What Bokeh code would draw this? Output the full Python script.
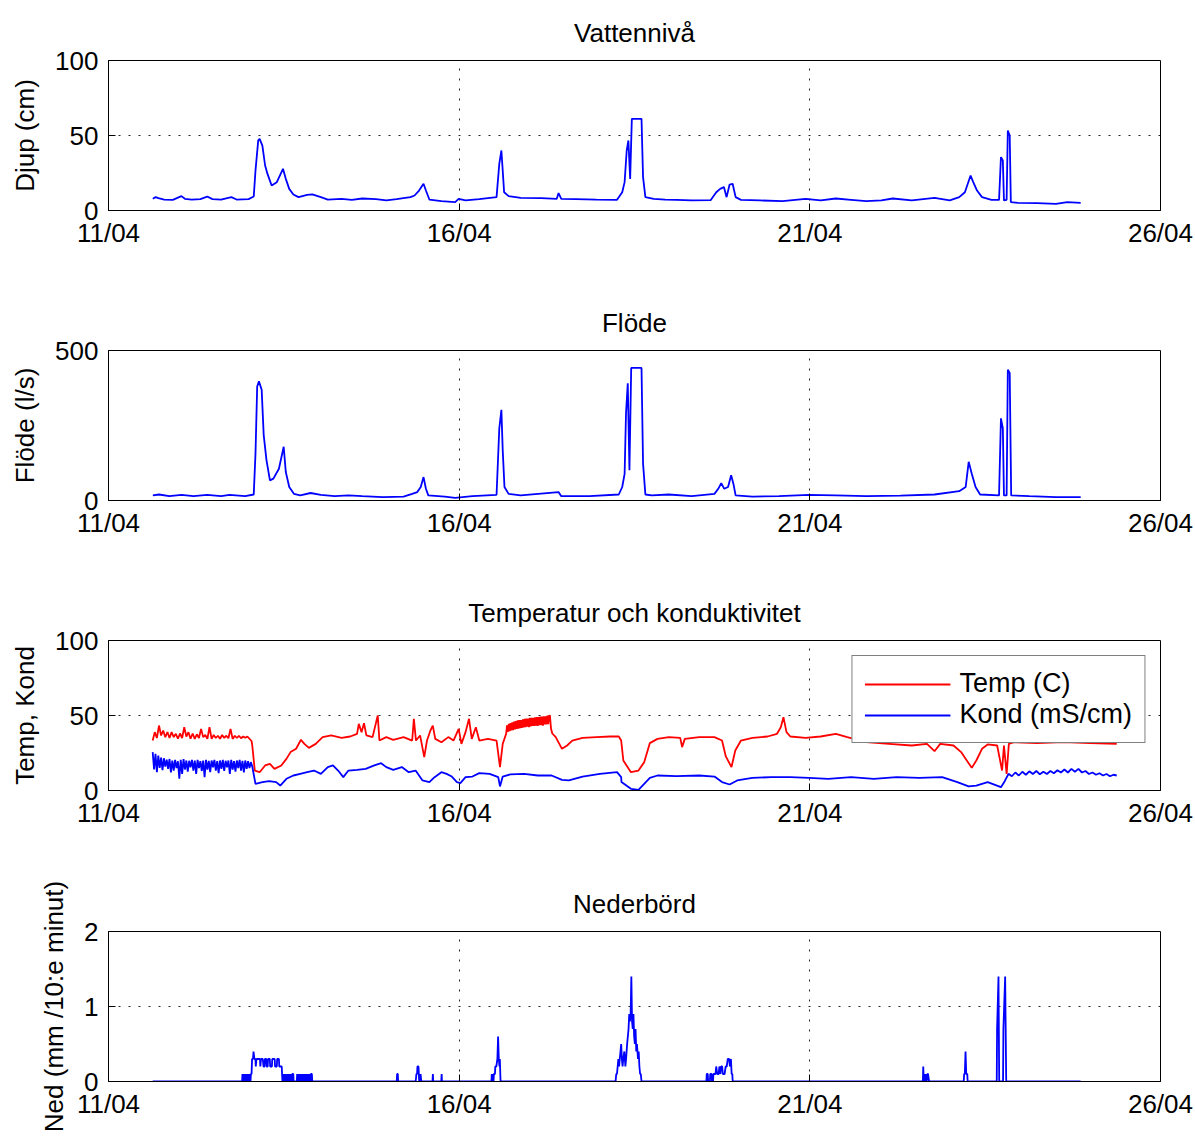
from bokeh.plotting import figure
from bokeh.layouts import column
from bokeh.models import Range1d, FixedTicker, Legend, LegendItem
from bokeh.embed import file_html
from bokeh.resources import INLINE

# ---------------- data (day of April, fractional) ----------------
x_ticks = [11, 16, 21, 26]
x_tick_labels = ["11/04", "16/04", "21/04", "26/04"]

titles = ["Vattennivå", "Flöde", "Temperatur och konduktivitet", "Nederbörd"]
ylabels = ["Djup (cm)", "Flöde (l/s)", "Temp, Kond", "Ned (mm /10:e minut)"]

djup_t = [11.632, 11.672, 11.711, 11.794, 11.917, 12.040, 12.089, 12.187, 12.310, 12.408,
          12.482, 12.605, 12.752, 12.826, 12.997, 13.071, 13.096, 13.135, 13.155, 13.194,
          13.233, 13.267, 13.326, 13.400, 13.488, 13.528, 13.577, 13.636, 13.709, 13.832,
          13.906, 14.028, 14.127, 14.323, 14.470, 14.618, 14.814, 14.961, 15.108, 15.305,
          15.364, 15.428, 15.492, 15.526, 15.575, 15.747, 15.943, 15.993, 16.091, 16.287,
          16.533, 16.572, 16.602, 16.621, 16.641, 16.705, 16.877, 17.171, 17.392, 17.417,
          17.456, 17.662, 17.957, 18.251, 18.325, 18.359, 18.389, 18.413, 18.438, 18.462,
          18.600, 18.622, 18.655, 18.774, 18.936, 19.098, 19.315, 19.585, 19.666, 19.721,
          19.775, 19.813, 19.856, 19.899, 19.942, 20.018, 20.289, 20.613, 20.938, 21.155,
          21.371, 21.588, 21.804, 22.020, 22.183, 22.454, 22.778, 22.995, 23.130, 23.211,
          23.292, 23.330, 23.384, 23.455, 23.590, 23.698, 23.725, 23.752, 23.768, 23.806,
          23.823, 23.850, 23.866, 23.969, 24.239, 24.510, 24.672, 24.862]
djup_v = [7.8, 8.9, 8.2, 7.3, 7.1, 9.6, 7.8, 7.3, 7.6, 9.3,
          7.6, 7.3, 8.9, 7.3, 7.6, 9.3, 26.7, 46.7, 47.8, 43.3,
          30.0, 24.4, 16.7, 18.9, 27.8, 21.1, 14.4, 10.7, 8.9, 10.4,
          10.7, 8.9, 7.3, 7.8, 7.1, 8.0, 7.6, 6.7, 7.6, 8.9,
          10.0, 13.3, 17.8, 13.3, 7.3, 6.2, 5.6, 7.8, 6.7, 7.6,
          8.9, 31.1, 40.0, 26.7, 12.2, 9.6, 8.4, 8.2, 7.8, 11.6,
          7.8, 7.6, 7.3, 7.1, 12.2, 18.9, 40.0, 46.7, 21.1, 61.1,
          61.1, 22.2, 8.9, 7.8, 7.3, 7.1, 6.7, 6.9, 12.2, 14.4,
          15.6, 8.9, 17.3, 17.8, 8.9, 7.1, 6.7, 6.2, 7.8, 6.7,
          8.0, 7.1, 6.2, 6.7, 8.0, 6.7, 8.4, 6.7, 8.9, 12.2,
          23.3, 18.9, 13.3, 8.9, 7.1, 7.1, 35.6, 33.3, 6.7, 7.1,
          53.3, 50.0, 5.6, 5.1, 4.9, 4.4, 5.6, 5.1]

flode_t = [11.632, 11.721, 11.868, 12.040, 12.212, 12.408, 12.605, 12.727, 12.948, 13.071,
           13.096, 13.120, 13.145, 13.184, 13.213, 13.253, 13.302, 13.351, 13.430, 13.498,
           13.528, 13.577, 13.646, 13.734, 13.881, 14.028, 14.225, 14.421, 14.618, 14.912,
           15.207, 15.330, 15.403, 15.452, 15.492, 15.526, 15.560, 15.796, 15.943, 16.189,
           16.533, 16.572, 16.602, 16.621, 16.646, 16.705, 16.877, 17.417, 17.456, 17.858,
           18.276, 18.325, 18.359, 18.379, 18.404, 18.428, 18.453, 18.600, 18.622, 18.655,
           18.747, 18.990, 19.315, 19.640, 19.694, 19.737, 19.780, 19.834, 19.878, 19.910,
           19.942, 20.181, 20.559, 20.987, 21.371, 21.804, 22.291, 22.778, 23.130, 23.222,
           23.265, 23.309, 23.363, 23.428, 23.698, 23.725, 23.752, 23.768, 23.806, 23.823,
           23.850, 23.871, 24.131, 24.510, 24.862]
flode_v = [17, 20, 14.5, 19, 14.5, 19, 14.5, 19, 14.5, 20,
           157, 380, 397, 369, 218, 134, 67, 73, 106, 179,
           95, 45, 22, 17, 25, 19, 14.5, 17, 14.5, 11,
           13, 22, 28, 45, 78, 39, 17, 13, 9, 14.5,
           19, 240, 302, 168, 45, 22, 17, 28, 14.5, 14.5,
           20, 45, 89, 291, 391, 101, 442, 442, 123, 20,
           17, 20, 14.5, 22, 39, 58, 39, 45, 84, 56,
           17, 13, 14.5, 19, 17, 14.5, 16, 20, 31, 45,
           129, 89, 45, 20, 17, 274, 240, 17, 17, 436,
           425, 17, 14.5, 11, 11]

temp_t = [11.63, 11.66, 11.69, 11.72, 11.75, 11.78, 11.81, 11.84, 11.87, 11.90,
          11.93, 11.96, 11.99, 12.02, 12.05, 12.08, 12.11, 12.14, 12.17, 12.20,
          12.23, 12.26, 12.29, 12.32, 12.35, 12.38, 12.41, 12.44, 12.47, 12.50,
          12.53, 12.56, 12.59, 12.62, 12.65, 12.68, 12.71, 12.74, 12.77, 12.80,
          12.83, 12.86, 12.89, 12.92, 12.95, 12.98, 13.01, 13.04, 13.05,
          13.086, 13.155, 13.233, 13.302, 13.366,
          13.464, 13.537, 13.596, 13.675, 13.744, 13.793, 13.857, 13.955, 14.053, 14.176,
          14.323, 14.446, 14.544, 14.569, 14.608, 14.643, 14.677, 14.765, 14.839, 14.863,
          14.961, 15.060, 15.207, 15.330, 15.354, 15.384, 15.443, 15.502, 15.541, 15.590,
          15.624, 15.659, 15.747, 15.845, 15.919, 15.993, 16.032, 16.091, 16.140, 16.180,
          16.238, 16.287, 16.410, 16.533, 16.582, 16.621,
          16.670, 16.6825, 16.695, 16.7075, 16.720, 16.7325, 16.745, 16.7575, 16.770, 16.7825,
          16.795, 16.8075, 16.820, 16.8325, 16.845, 16.8575, 16.870, 16.8825, 16.895, 16.9075,
          16.920, 16.9325, 16.945, 16.9575, 16.970, 16.9825, 16.995, 17.0075, 17.020, 17.0325,
          17.045, 17.0575, 17.070, 17.0825, 17.095, 17.1075, 17.120, 17.1325, 17.145, 17.1575,
          17.170, 17.1825, 17.195, 17.2075, 17.220, 17.2325, 17.245, 17.2575, 17.270, 17.2825,
          17.294, 17.310, 17.328, 17.377,
          17.466, 17.539, 17.613, 17.760, 17.957, 18.153, 18.276, 18.310, 18.341, 18.449,
          18.557, 18.638, 18.719, 18.828, 18.990, 19.152, 19.179, 19.217, 19.423, 19.640,
          19.748, 19.802, 19.883, 19.937, 20.018, 20.181, 20.397, 20.532, 20.586, 20.624,
          20.667, 20.722, 20.938, 21.155, 21.371, 21.533, 21.804, 22.129, 22.454, 22.670,
          22.778, 22.859, 23.049, 23.157, 23.238, 23.309, 23.374, 23.455, 23.536, 23.671,
          23.741, 23.768, 23.806, 23.838, 23.914, 24.239, 24.618, 24.997, 25.376]
temp_v = [33.3, 38.9, 35.0, 43.3, 36.7, 40.0, 35.5, 39.0, 35.0, 38.9,
          35.6, 37.8, 34.5, 38.0, 35.0, 42.2, 36.0, 38.9, 34.5, 38.0,
          34.4, 37.5, 35.0, 41.1, 35.6, 37.0, 34.4, 42.2, 34.4, 37.0,
          35.0, 36.5, 34.5, 37.0, 35.1, 36.5, 34.8, 41.1, 34.4, 36.5,
          35.0, 36.5, 34.8, 36.0, 35.1, 36.0, 34.5, 33.0, 30.0,
          13.3, 12.2, 16.7, 17.8, 14.4,
          16.7, 21.1, 25.6, 27.8, 33.8, 31.1, 28.4, 31.1, 35.6, 36.7,
          35.1, 36.0, 37.8, 44.4, 38.9, 44.9, 36.7, 35.6, 50.0, 33.3,
          35.6, 33.8, 35.6, 33.3, 47.8, 33.3, 36.7, 22.2, 33.3, 40.0,
          43.3, 34.4, 32.2, 35.6, 33.3, 41.1, 31.1, 38.9, 47.8, 34.4,
          42.2, 33.3, 34.4, 33.3, 15.6, 31.1,
          37.8, 43.5, 39.0, 44.5, 39.5, 45.0, 40.0, 45.5, 40.2, 46.0,
          40.8, 46.2, 41.0, 46.7, 41.3, 47.0, 41.5, 47.0, 41.8, 47.5,
          42.0, 47.8, 42.2, 48.0, 42.5, 48.0, 42.2, 48.4, 42.8, 48.4,
          43.0, 48.5, 43.0, 48.8, 43.2, 49.0, 43.0, 49.0, 43.5, 49.3,
          43.5, 49.3, 43.3, 49.5, 44.0, 49.5, 44.0, 50.0, 44.2, 49.8,
          50.0, 41.1, 38.0, 35.6,
          27.8, 30.0, 33.3, 35.1, 35.6, 36.0, 36.0, 33.3, 20.0, 12.2,
          13.3, 18.9, 31.6, 34.4, 35.6, 35.1, 28.9, 34.4, 35.6, 35.6,
          33.3, 22.7, 15.6, 26.7, 33.3, 35.1, 36.0, 37.8, 42.2, 48.9,
          38.9, 36.0, 35.1, 36.0, 37.8, 35.6, 32.2, 31.1, 30.0, 31.1,
          26.2, 31.1, 30.0, 25.6, 20.0, 15.1, 20.0, 27.8, 30.7, 30.0,
          13.3, 30.0, 11.1, 31.1, 32.2, 31.6, 32.2, 31.6, 31.1]

kond_t = [11.63, 11.65, 11.67, 11.69, 11.71, 11.73, 11.75, 11.77, 11.79, 11.81,
          11.83, 11.85, 11.87, 11.89, 11.91, 11.93, 11.95, 11.97, 11.99, 12.01,
          12.03, 12.05, 12.07, 12.09, 12.11, 12.13, 12.15, 12.17, 12.19, 12.21,
          12.23, 12.25, 12.27, 12.29, 12.31, 12.33, 12.35, 12.37, 12.39, 12.41,
          12.43, 12.45, 12.47, 12.49, 12.51, 12.53, 12.55, 12.57, 12.59, 12.61,
          12.63, 12.65, 12.67, 12.69, 12.71, 12.73, 12.75, 12.77, 12.79, 12.81,
          12.83, 12.85, 12.87, 12.89, 12.91, 12.93, 12.95, 12.97, 12.99, 13.01,
          13.03, 13.05,
          13.096, 13.194, 13.292, 13.390, 13.449, 13.537, 13.636, 13.734, 13.832,
          13.930, 14.028, 14.127, 14.200, 14.274, 14.348, 14.421, 14.544, 14.667, 14.790,
          14.888, 14.961, 15.060, 15.182, 15.281, 15.379, 15.477, 15.575, 15.649, 15.747,
          15.821, 15.895, 15.968, 16.017, 16.091, 16.189, 16.287, 16.434, 16.557, 16.582,
          16.621, 16.729, 16.926, 17.122, 17.318, 17.466, 17.564, 17.760, 18.006, 18.251,
          18.310, 18.314, 18.449, 18.557, 18.638, 18.719, 18.828, 19.098, 19.423, 19.640,
          19.748, 19.856, 19.964, 20.181, 20.451, 20.722, 20.987, 21.263, 21.588, 21.912,
          22.237, 22.562, 22.887, 23.103, 23.265, 23.374, 23.536, 23.725, 23.779,
          23.833, 23.88, 23.93, 23.98, 24.03, 24.08, 24.13, 24.18, 24.23, 24.28,
          24.33, 24.38, 24.43, 24.48, 24.53, 24.58, 24.63, 24.68, 24.73, 24.78,
          24.83, 24.88, 24.93, 24.98, 25.03, 25.08, 25.13, 25.18, 25.23, 25.28,
          25.33, 25.376]
kond_v = [25.6, 14.0, 24.4, 12.2, 23.3, 15.0, 22.0, 13.5, 21.5, 16.0,
          20.5, 14.5, 21.0, 12.0, 20.0, 13.3, 20.4, 15.0, 19.5, 7.8,
          20.5, 11.0, 21.0, 14.0, 20.0, 12.5, 19.8, 15.5, 20.4, 13.3,
          20.0, 11.1, 20.4, 15.0, 19.6, 13.0, 20.0, 8.9, 20.4, 14.0,
          19.8, 12.2, 20.0, 15.5, 20.4, 13.3, 19.6, 11.5, 20.0, 14.5,
          20.4, 13.0, 19.8, 15.5, 20.0, 11.1, 20.4, 14.0, 19.6, 12.5,
          20.0, 15.0, 20.4, 13.3, 19.8, 12.0, 20.0, 14.4, 19.5, 15.0,
          18.9, 16.0,
          4.4, 5.6, 6.2, 5.6, 3.3, 7.8, 10.0, 11.1, 12.2,
          13.3, 11.1, 15.6, 16.7, 13.3, 8.9, 13.3, 13.8, 14.4, 16.7,
          18.2, 15.6, 13.8, 15.6, 12.2, 13.3, 6.7, 5.6, 8.9, 12.2,
          11.1, 9.3, 5.6, 4.9, 8.9, 9.3, 11.6, 11.1, 8.9, 2.7,
          9.3, 10.7, 11.1, 10.0, 10.0, 7.1, 6.7, 9.3, 11.1, 12.2,
          8.9, 5.6, 1.1, 0.4, 4.4, 8.4, 10.0, 9.6, 10.0, 9.3,
          5.6, 4.0, 6.7, 8.4, 8.9, 8.9, 8.4, 7.8, 8.9, 7.8,
          8.9, 8.4, 8.9, 5.6, 2.7, 3.3, 5.6, 2.2, 6.2,
          11.1, 9.5, 12.0, 10.0, 12.5, 10.5, 12.8, 11.0, 13.0, 10.8,
          12.5, 11.0, 13.0, 11.5, 13.5, 12.0, 14.0, 12.0, 14.4, 12.5,
          14.4, 12.0, 13.0, 11.0, 12.0, 10.5, 11.5, 10.0, 11.0, 9.5,
          10.5, 10.0]

ned_t = [11.63,
         12.905, 12.91, 12.92, 12.925, 12.935, 12.94, 12.95, 12.955, 12.965, 12.97,
         12.98, 12.985, 12.995, 13.0, 13.01, 13.015, 13.025, 13.03, 13.04, 13.047,
         13.06, 13.068, 13.08, 13.095, 13.10, 13.11, 13.14, 13.16, 13.165, 13.175,
         13.20, 13.21, 13.225, 13.23, 13.25, 13.255, 13.27, 13.275, 13.30, 13.305,
         13.33, 13.335, 13.37, 13.375, 13.40, 13.405, 13.43, 13.435, 13.47, 13.475,
         13.48, 13.487, 13.495, 13.50, 13.51, 13.515, 13.525, 13.53, 13.54, 13.545,
         13.555, 13.56, 13.57, 13.575, 13.585, 13.59, 13.60, 13.605, 13.615, 13.62,
         13.635, 13.64,
         13.685, 13.69, 13.70, 13.705, 13.715, 13.72, 13.73, 13.735, 13.745, 13.75,
         13.76, 13.765, 13.775, 13.78, 13.79, 13.795, 13.805, 13.81, 13.82, 13.825,
         13.835, 13.84, 13.85, 13.855, 13.865, 13.87, 13.88, 13.885, 13.90, 13.905,
         15.11, 15.115, 15.125, 15.13,
         15.38, 15.39, 15.40, 15.405, 15.42, 15.425, 15.43, 15.435, 15.445, 15.45, 15.46,
         15.62, 15.625, 15.63, 15.745, 15.75, 15.755,
         16.46, 16.465, 16.475, 16.48, 16.49, 16.495, 16.51, 16.515, 16.53, 16.545,
         16.555, 16.565, 16.575, 16.58, 16.59,
         18.23, 18.24, 18.25, 18.26, 18.27, 18.28, 18.29, 18.30, 18.31, 18.32,
         18.33, 18.34, 18.355, 18.37, 18.38, 18.395, 18.405, 18.415, 18.425, 18.435,
         18.445, 18.455, 18.465, 18.475, 18.485, 18.495, 18.505, 18.515, 18.525, 18.535,
         18.55, 18.56, 18.57, 18.58, 18.59, 18.60,
         19.525, 19.53, 19.545, 19.55, 19.575, 19.58, 19.60, 19.605, 19.62, 19.625,
         19.655, 19.665, 19.68, 19.70, 19.71, 19.725, 19.735, 19.75, 19.76, 19.785,
         19.80, 19.815, 19.83, 19.85, 19.86, 19.875, 19.885, 19.895, 19.90,
         22.612, 22.617, 22.625, 22.640, 22.645, 22.655, 22.66, 22.665, 22.68, 22.685, 22.70,
         23.195, 23.20, 23.21, 23.22, 23.23, 23.245, 23.25,
         23.665, 23.67, 23.69, 23.70, 23.755, 23.76, 23.785, 23.80,
         24.86]
ned_v = [0,
         0, 0.1, 0, 0.1, 0, 0.1, 0, 0.1, 0, 0.1,
         0, 0.1, 0, 0.1, 0, 0.1, 0, 0.1, 0.1, 0.3,
         0.3, 0.4, 0.3, 0.3, 0.2, 0.3, 0.3, 0.3, 0.2, 0.3,
         0.3, 0.2, 0.2, 0.3, 0.3, 0.2, 0.2, 0.3, 0.3, 0.2,
         0.2, 0.3, 0.3, 0.2, 0.2, 0.3, 0.3, 0.2, 0.2, 0.1,
         0, 0.1, 0, 0.1, 0, 0.1, 0, 0.1, 0, 0.1,
         0, 0.1, 0, 0.1, 0, 0.1, 0, 0.1, 0, 0.1,
         0.1, 0,
         0, 0.1, 0, 0.1, 0, 0.1, 0, 0.1, 0, 0.1,
         0, 0.1, 0, 0.1, 0, 0.1, 0, 0.1, 0, 0.1,
         0, 0.1, 0, 0.1, 0, 0.1, 0, 0.1, 0.1, 0,
         0, 0.1, 0.1, 0,
         0, 0.1, 0.1, 0.2, 0.2, 0.1, 0, 0.1, 0, 0.1, 0,
         0, 0.1, 0, 0, 0.1, 0,
         0, 0.1, 0, 0.1, 0, 0.1, 0.1, 0.2, 0.2, 0.3,
         0.6, 0.3, 0.2, 0.3, 0,
         0, 0.1, 0.1, 0.2, 0.3, 0.2, 0.3, 0.4, 0.5, 0.3,
         0.2, 0.3, 0.4, 0.2, 0.3, 0.5, 0.6, 0.7, 0.9, 0.8,
         0.9, 1.4, 0.8, 0.7, 0.9, 0.6, 0.5, 0.7, 0.4, 0.5,
         0.3, 0.4, 0.2, 0.1, 0.1, 0,
         0, 0.1, 0.1, 0, 0, 0.1, 0.1, 0, 0, 0.1,
         0.1, 0.2, 0.1, 0.1, 0.2, 0.1, 0.2, 0.2, 0.1, 0.1,
         0.2, 0.2, 0.3, 0.3, 0.2, 0.3, 0.1, 0.1, 0,
         0, 0.2, 0, 0, 0.1, 0, 0.1, 0, 0.1, 0.1, 0,
         0, 0.1, 0.1, 0.4, 0.1, 0.1, 0,
         0, 0.7, 1.4, 0, 0, 0.7, 1.4, 0,
         0]

y_maxes = [100, 500, 100, 2]
y_tick_sets = [[0, 50, 100], [0, 500], [0, 50, 100], [0, 1, 2]]
y_grid_sets = [[50], [], [50], [1]]

# ---------------- styling ----------------
FONT = "Liberation Sans"
FS = "26px"
BLUE = "#0000ff"
RED = "#ff0000"
LW = 1.8
heights = [290, 290, 290, 268]
tops = [60, 60, 60, 61]
bottoms = [80, 80, 80, 57]


def make_fig(i):
    p = figure(width=1195, height=heights[i], output_backend="svg", toolbar_location=None,
               x_range=Range1d(11, 26), y_range=Range1d(0, y_maxes[i]),
               min_border_left=108, min_border_right=35,
               min_border_top=tops[i], min_border_bottom=bottoms[i],
               background_fill_color="white", border_fill_color="white")
    p.title.text = titles[i]
    p.title.text_font = FONT
    p.title.text_font_size = FS
    p.title.text_font_style = "normal"
    p.title.text_color = "black"
    p.title.align = "center"
    p.title.standoff = 26
    p.outline_line_color = "black"
    p.outline_line_width = 1
    p.outline_line_alpha = 1

    xa = p.xaxis[0]
    xa.ticker = FixedTicker(ticks=x_ticks)
    xa.major_label_overrides = {t: l for t, l in zip(x_ticks, x_tick_labels)}
    ya = p.yaxis[0]
    ya.ticker = FixedTicker(ticks=y_tick_sets[i])
    ya.axis_label = ylabels[i]
    for ax in (xa, ya):
        ax.major_label_text_font = FONT
        ax.major_label_text_font_size = FS
        ax.major_label_text_color = "black"
        ax.axis_line_color = "black"
        ax.major_tick_line_color = "black"
        ax.major_tick_in = 7
        ax.major_tick_out = 0
        ax.minor_tick_in = 0
        ax.minor_tick_out = 0
    xa.major_label_standoff = 7
    ya.major_label_standoff = 10
    ya.axis_label_text_font = FONT
    ya.axis_label_text_font_size = FS
    ya.axis_label_text_font_style = "normal"
    ya.axis_label_text_color = "black"
    ya.axis_label_standoff = 12

    p.xgrid.ticker = FixedTicker(ticks=[16, 21])
    p.ygrid.ticker = FixedTicker(ticks=y_grid_sets[i])
    for g in (p.xgrid[0], p.ygrid[0]):
        g.grid_line_color = "black"
        g.grid_line_dash = "2 8"
        g.grid_line_width = 1
        g.grid_line_alpha = 0.85
    return p


figs = [make_fig(i) for i in range(4)]

figs[0].line(djup_t, djup_v, line_color=BLUE, line_width=LW)
figs[1].line(flode_t, flode_v, line_color=BLUE, line_width=LW)
r_temp = figs[2].line(temp_t, temp_v, line_color=RED, line_width=LW)
r_kond = figs[2].line(kond_t, kond_v, line_color=BLUE, line_width=LW)
figs[3].line(ned_t, ned_v, line_color=BLUE, line_width=LW)

legend = Legend(items=[LegendItem(label="Temp (C)", renderers=[r_temp]),
                       LegendItem(label="Kond (mS/cm)", renderers=[r_kond])],
                location="top_right", margin=15, padding=12, spacing=0,
                glyph_width=86, glyph_height=26, label_height=26, label_standoff=9,
                label_text_font=FONT, label_text_font_size="27px", label_text_color="black",
                border_line_color="black", border_line_width=1,
                background_fill_color="white", background_fill_alpha=1)
figs[2].add_layout(legend)

layout = column(*figs, spacing=0)
open("out.html", "w").write(file_html(layout, INLINE))
